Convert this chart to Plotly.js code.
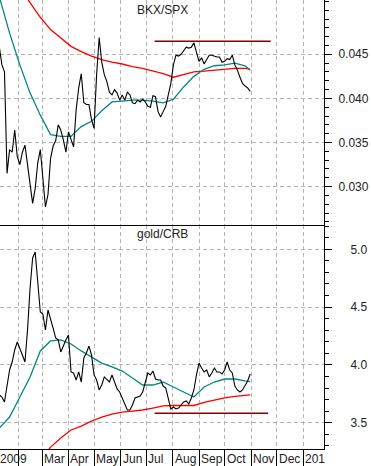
<!DOCTYPE html>
<html>
<head>
<meta charset="utf-8">
<script src="https://cdn.plot.ly/plotly-3.0.1.min.js"></script>
<style>html,body{margin:0;padding:0;background:#fff;}#chart{width:371px;height:466px;}</style>
</head>
<body>
<div id="chart"></div>
<script>
// ---- data ----
var dates = ['2009-01-10','2009-01-13','2009-01-16','2009-01-19','2009-01-22','2009-01-25','2009-01-28','2009-01-31',
'2009-02-03','2009-02-06','2009-02-09','2009-02-12','2009-02-15','2009-02-18','2009-02-21','2009-02-24','2009-02-27',
'2009-03-02','2009-03-05','2009-03-08','2009-03-11','2009-03-14','2009-03-17','2009-03-20','2009-03-23','2009-03-26','2009-03-29',
'2009-04-01','2009-04-04','2009-04-07','2009-04-10','2009-04-13','2009-04-16','2009-04-19','2009-04-22','2009-04-25','2009-04-28',
'2009-05-01','2009-05-04','2009-05-07','2009-05-10','2009-05-13','2009-05-16','2009-05-19','2009-05-22','2009-05-25','2009-05-28','2009-05-31',
'2009-06-03','2009-06-06','2009-06-09','2009-06-12','2009-06-15','2009-06-18','2009-06-21','2009-06-24','2009-06-27','2009-06-30',
'2009-07-03','2009-07-06','2009-07-09','2009-07-12','2009-07-15','2009-07-18','2009-07-21','2009-07-24','2009-07-27','2009-07-30',
'2009-08-02','2009-08-05','2009-08-08','2009-08-11','2009-08-14','2009-08-17','2009-08-20','2009-08-23','2009-08-26','2009-08-29',
'2009-09-01','2009-09-04','2009-09-07','2009-09-10','2009-09-13','2009-09-16','2009-09-19','2009-09-22','2009-09-25','2009-09-28',
'2009-10-01','2009-10-04','2009-10-07','2009-10-10','2009-10-13','2009-10-16','2009-10-19','2009-10-22','2009-10-25','2009-10-28','2009-10-31'];

var bkxSpx = [0.0458,0.0438,0.0430,0.0315,0.0342,0.0339,0.0364,0.0334,
0.0325,0.0339,0.0347,0.0325,0.0305,0.0281,0.0298,0.0327,0.0342,
0.0308,0.0277,0.0291,0.0332,0.0346,0.0352,0.0370,0.0364,0.0353,0.0339,
0.0362,0.0353,0.0345,0.0387,0.0412,0.0428,0.0395,0.0393,0.0393,0.0376,
0.0366,0.0427,0.0469,0.0441,0.0427,0.0419,0.0407,0.0404,0.0410,0.0406,0.0398,
0.0404,0.0398,0.0407,0.0404,0.0395,0.0394,0.0398,0.0396,0.0399,0.0396,
0.0391,0.0390,0.0403,0.0402,0.0385,0.0379,0.0385,0.0391,0.0404,0.0417,
0.0438,0.0449,0.0448,0.0450,0.0454,0.0458,0.0457,0.0458,0.0463,0.0452,
0.0442,0.0446,0.0439,0.0444,0.0449,0.0449,0.0448,0.0447,0.0447,0.0441,
0.0442,0.0445,0.0444,0.0449,0.0438,0.0432,0.0424,0.0417,0.0414,0.0412,0.0408];

var goldCrb = [3.740,3.722,3.679,3.826,3.956,4.025,4.129,4.198,
4.146,4.086,4.025,4.302,4.665,4.925,4.977,4.674,4.458,
4.440,4.302,4.475,4.406,4.319,4.233,4.216,4.112,4.172,4.216,
4.259,3.939,3.930,3.869,3.939,3.852,4.060,4.103,4.163,4.086,
3.913,3.869,3.783,3.826,3.896,3.869,3.852,3.913,3.843,3.792,3.766,
3.714,3.670,3.610,3.610,3.653,3.714,3.722,3.731,3.766,3.843,
3.930,3.913,3.947,3.878,3.869,3.869,3.817,3.800,3.714,3.619,
3.636,3.619,3.627,3.653,3.679,3.688,3.662,3.714,3.783,3.913,
4.016,3.973,3.939,3.956,3.896,3.930,3.973,3.939,3.939,3.921,
3.956,4.025,3.956,3.930,3.817,3.783,3.766,3.783,3.817,3.861,3.921];

var maDates = ['2009-01-10','2009-01-22','2009-02-03','2009-02-15','2009-02-27','2009-03-11','2009-03-23','2009-04-04',
'2009-04-16','2009-04-28','2009-05-10','2009-05-22','2009-06-03','2009-06-15','2009-06-27','2009-07-09','2009-07-21',
'2009-08-02','2009-08-14','2009-08-26','2009-09-07','2009-09-19','2009-10-01','2009-10-13','2009-10-25','2009-10-31'];

var bkxMa200 = [null,null,0.0525,0.0509,0.0492,0.0478,0.0469,0.0459,0.0453,0.0448,0.0444,0.0441,0.0439,0.0436,0.0434,0.0431,0.0428,
0.0424,0.0427,0.0430,0.0431,0.0432,0.0433,0.0434,0.0434,0.0433];
var bkxMa50 = [0.0515,0.0474,0.0438,0.0406,0.0381,0.0359,0.0357,0.0357,0.0368,0.0374,0.0386,0.0396,0.0397,0.0398,0.0398,0.0397,0.0395,
0.0399,0.0413,0.0425,0.0433,0.0437,0.0438,0.0440,0.0437,0.0432];
var goldMa200 = [null,null,null,3.048,3.177,3.289,3.368,3.437,3.471,3.514,3.549,3.575,3.592,3.601,3.610,3.627,3.645,
3.649,3.649,3.649,3.675,3.696,3.714,3.727,3.737,3.740];
var goldMa50 = [3.454,3.549,3.722,3.896,4.121,4.207,4.216,4.181,4.121,4.069,4.016,3.982,3.947,3.887,3.826,3.826,3.852,
3.809,3.766,3.722,3.809,3.852,3.878,3.878,3.861,3.856];

var bkxLevel = 0.04647, bkxLevelDates = ['2009-07-11','2009-11-24'];
var goldLevel = 3.581, goldLevelDates = ['2009-07-11','2009-11-21'];

var monthTicks = ['2009-02-01','2009-03-01','2009-04-01','2009-05-01','2009-06-01','2009-07-01','2009-08-01',
'2009-09-01','2009-10-01','2009-11-01','2009-12-01','2010-01-01'];
var monthLabels = ['','Mar','Apr','May','Jun','Jul','Aug','Sep','Oct','Nov','Dec','201'];
var yearLabel = '2009';

var topTicks = [0.030,0.035,0.040,0.045];
var topTickText = ['0.030','0.035','0.040','0.045'];
var botTicks = [3.5,4.0,4.5,5.0];
var botTickText = ['3.5','4.0','4.5','5.0'];

// ---- styles ----
var RED = '#ff0000', TEAL = '#00897b', DARK = '#8b0000';
var GRID = '#b4b4b4';
var FONT = 'Arial, "Liberation Sans", sans-serif';

function line(x, y, ya, color, w){
  return {x:x, y:y, yaxis:ya, xaxis:'x', type:'scatter', mode:'lines',
    line:{color:color, width:w}, hoverinfo:'skip', connectgaps:false};
}

var traces = [
  line(maDates, bkxMa200, 'y', RED, 1.3),
  line(maDates, bkxMa50, 'y', TEAL, 1.3),
  line(dates, bkxSpx, 'y', '#000', 1.1),
  line(bkxLevelDates, [bkxLevel,bkxLevel], 'y', DARK, 1.5),
  line(maDates, goldMa200, 'y2', RED, 1.3),
  line(maDates, goldMa50, 'y2', TEAL, 1.3),
  line(dates, goldCrb, 'y2', '#000', 1.1),
  line(goldLevelDates, [goldLevel,goldLevel], 'y2', DARK, 1.5)
];

var SPLIT = 0.4978;

function yax(domain, range, tv, tt, minorDt, standoff){
  return {domain:domain, range:range, side:'right', anchor:'x',
    tickmode:'array', tickvals:tv, ticktext:tt,
    ticks:'outside', ticklen:7, tickcolor:'#000', tickwidth:1,
    showline:true, linecolor:'#000', linewidth:1,
    showgrid:true, gridcolor:GRID, griddash:'4px,3px', gridwidth:1,
    zeroline:false, fixedrange:true,
    ticklabelstandoff:standoff,
    tickfont:{family:FONT, size:12, color:'#222'},
    minor:{tickmode:'linear', tick0:0, dtick:minorDt, ticks:'outside', ticklen:4, tickcolor:'#000', tickwidth:1, showgrid:false}
  };
}

var annotations = [
  {xref:'paper', yref:'paper', x:0.5, y:1 - 10/449, xanchor:'center', yanchor:'middle', text:'BKX/SPX', showarrow:false,
   font:{family:FONT, size:12, color:'#222'}},
  {xref:'paper', yref:'paper', x:0.5, y:1 - 234/449, xanchor:'center', yanchor:'middle', text:'gold/CRB', showarrow:false,
   font:{family:FONT, size:12, color:'#222'}},
  {xref:'paper', yref:'paper', x:0, y:0, xanchor:'left', yanchor:'top', xshift:-2, yshift:-1, text:yearLabel, showarrow:false,
   font:{family:FONT, size:12, color:'#222'}}
];
monthTicks.forEach(function(d, i){
  if (!monthLabels[i]) return;
  annotations.push({xref:'x', yref:'paper', x:d, y:0, xanchor:'left', yanchor:'top', xshift:0, yshift:-1,
    text:monthLabels[i], showarrow:false, font:{family:FONT, size:12, color:'#222'}});
});

var layout = {
  width:371, height:466,
  margin:{l:0, r:47, t:0, b:17, pad:0},
  paper_bgcolor:'#fff', plot_bgcolor:'#fff',
  showlegend:false,
  font:{family:FONT, size:12, color:'#222'},
  xaxis:{type:'date', range:['2009-01-10 18:00','2010-01-25 12:00'], anchor:'y2',
    tickmode:'array', tickvals:monthTicks, showticklabels:false,
    ticks:'outside', ticklen:17, tickcolor:'#000', tickwidth:1,
    showgrid:true, gridcolor:GRID, griddash:'4px,3px', gridwidth:1,
    showline:true, linecolor:'#000', linewidth:1, zeroline:false, fixedrange:true},
  yaxis: yax([SPLIT,1], [0.02559,0.051156], topTicks, topTickText, 0.001, 4),
  yaxis2: yax([0,SPLIT], [3.2725,5.206], botTicks, botTickText, 0.1, 16),
  shapes:[{type:'line', xref:'paper', yref:'paper', x0:0, x1:1, y0:SPLIT, y1:SPLIT, line:{color:'#000', width:1}}],
  annotations:annotations
};

Plotly.newPlot('chart', traces, layout, {staticPlot:true, displayModeBar:false});
</script>
</body>
</html>
